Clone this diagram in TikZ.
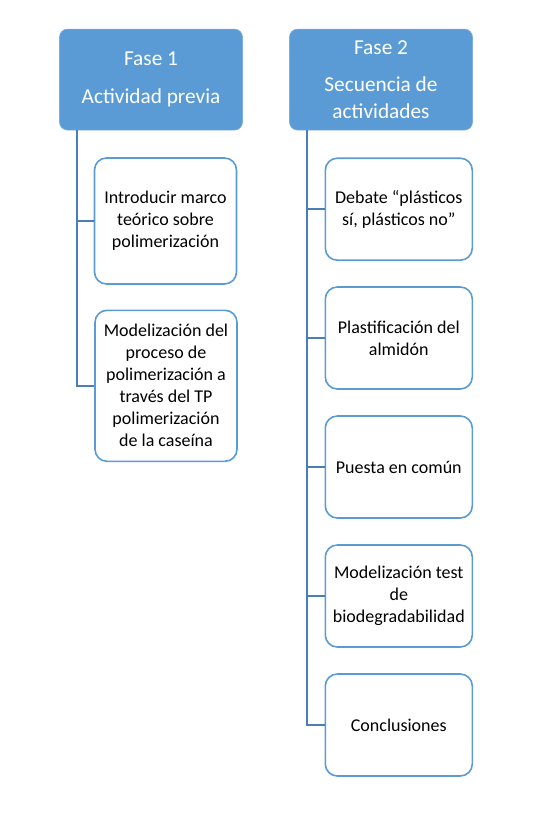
\documentclass[tikz,border=0pt]{standalone}
\usepackage{fontspec}
\setmainfont{Carlito}
\definecolor{hdrblue}{HTML}{5B9BD5}
\definecolor{linkblue}{HTML}{4A7EBB}
\begin{document}
\begin{tikzpicture}[x=1pt,y=-1pt,
  header/.style={draw=hdrblue!80!white, line width=0.6pt, fill=hdrblue, rounded corners=8pt,
    text=white, align=center, inner sep=0pt,
    font=\fontsize{21.3}{26.5}\selectfont},
  child/.style={draw=hdrblue, line width=1.6pt, fill=white, rounded corners=12pt,
    text=black, align=center, inner sep=0pt,
    font=\fontsize{18}{22}\selectfont},
  link/.style={draw=linkblue, line width=2pt}]
\useasboundingbox (0,0) rectangle (543,817);
% headers
\node[header, minimum width=183pt, minimum height=101pt] (h1) at (151,79.6)
  {Fase 1\\[11pt]Actividad previa};
\node[header, minimum width=183pt, minimum height=101pt] (h2) at (381,79.6)
  {Fase 2\\[11pt]Secuencia de\\actividades};
% phase 1 children
\node[child, minimum width=142pt, minimum height=126pt] (a1) at (165.5,221)
  {Introducir marco\\teórico sobre\\polimerización};
\node[child, minimum width=142pt, minimum height=151pt] (a2) at (166,385.8)
  {Modelización del\\proceso de\\polimerización a\\través del TP\\polimerización\\de la caseína};
% phase 2 children
\node[child, minimum width=147pt, minimum height=102pt] (b1) at (398.8,209.2)
  {Debate “plásticos\\sí, plásticos no”};
\node[child, minimum width=147pt, minimum height=102pt] (b2) at (398.8,338)
  {Plastificación del\\almidón};
\node[child, minimum width=147pt, minimum height=102pt] (b3) at (398.8,467)
  {Puesta en común};
\node[child, minimum width=147pt, minimum height=102pt] (b4) at (398.8,596)
  {Modelización test\\de\\biodegradabilidad};
\node[child, minimum width=147pt, minimum height=102pt] (b5) at (398.8,725)
  {Conclusiones};
% connectors
\coordinate (s1) at (77,130);
\coordinate (s2) at (307,130);
\draw[link] (s1) |- (a2.west);
\draw[link] (s1 |- a1.west) -- (a1.west);
\draw[link] (s2) |- (b5.west);
\draw[link] (s2 |- b1.west) -- (b1.west);
\draw[link] (s2 |- b2.west) -- (b2.west);
\draw[link] (s2 |- b3.west) -- (b3.west);
\draw[link] (s2 |- b4.west) -- (b4.west);
\end{tikzpicture}
\end{document}
